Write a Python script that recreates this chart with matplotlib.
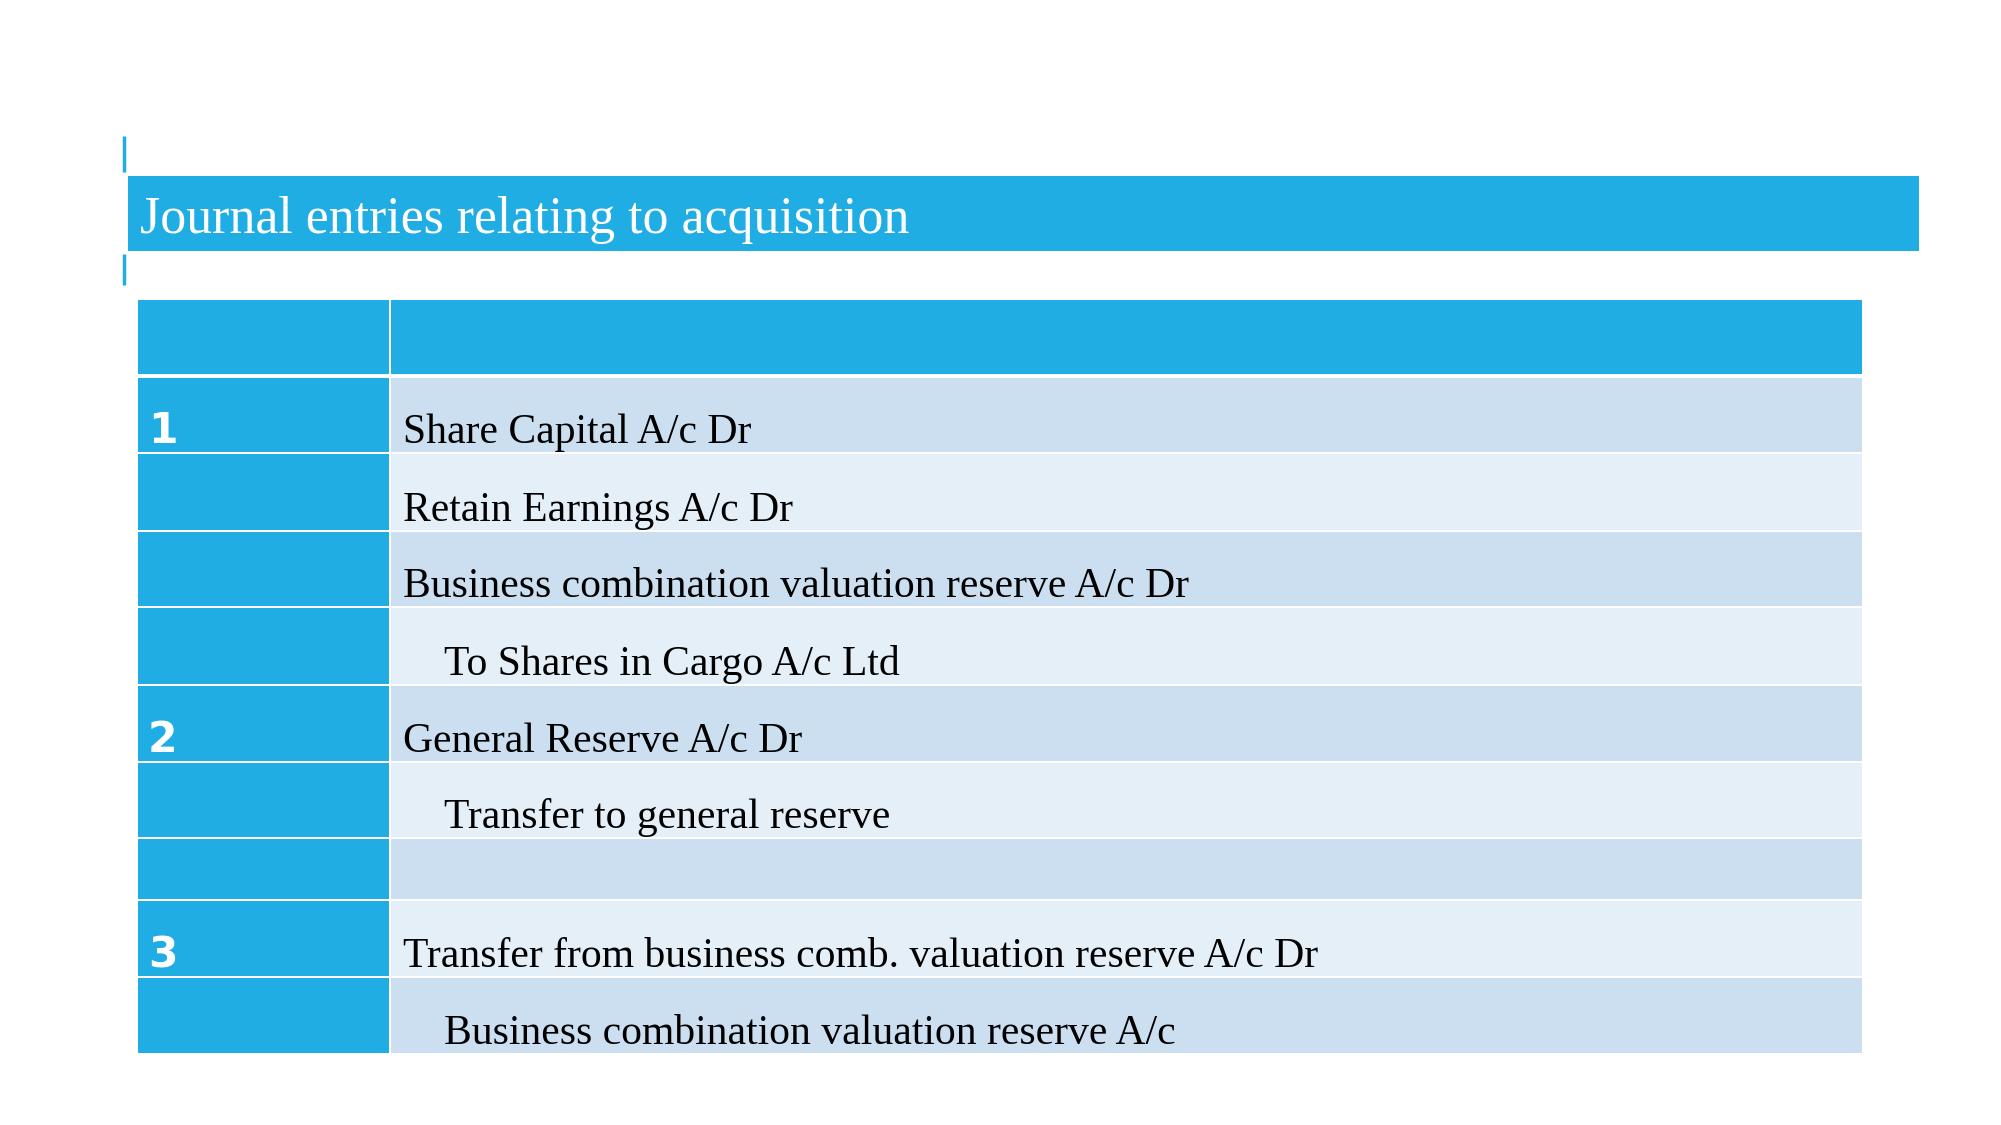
'''
Slide: journal entries relating to acquisition, drawn as a table.
'''

import matplotlib.pyplot as plt

title = 'Journal entries relating to acquisition'

entry_no = ['1', '', '', '', '2', '', '', '3', '']
entries = [
    'Share Capital A/c Dr',
    'Retain Earnings A/c Dr',
    'Business combination valuation reserve A/c Dr',
    'To Shares in Cargo A/c Ltd',
    'General Reserve A/c Dr',
    'Transfer to general reserve',
    '',
    'Transfer from business comb. valuation reserve A/c Dr',
    'Business combination valuation reserve A/c',
]
indented = [False, False, False, True, False, True, False, False, True]

# layout (pixels on a 2001 x 1125 canvas)
W, H = 2001, 1125
BLUE = '#1fade4'
ROW_DARK = '#cbdff0'
ROW_LIGHT = '#e5eff8'
table_left, col_split, table_right = 138, 389, 1862
header_top, header_h = 300, 74
row_h = [74, 76, 74, 76, 75, 74, 60, 75, 75]
gap = 2

fig = plt.figure(figsize=(W / 100, H / 100), dpi=100)
ax = fig.add_axes([0, 0, 1, 1])
ax.set_xlim(0, W)
ax.set_ylim(H, 0)
ax.axis('off')

# title bar and accent ticks
ax.barh(176, 1919 - 128, height=75, left=128, align='edge', color=BLUE)
ax.plot([124, 124], [136, 172], color=BLUE, lw=2.5, solid_capstyle='butt')
ax.plot([124, 124], [254, 285], color=BLUE, lw=2.5, solid_capstyle='butt')
ax.text(140, 233, title, color='white', fontsize=37.4,
        family='Liberation Serif', va='baseline')

# header row
ax.barh(header_top, col_split - table_left, height=header_h, left=table_left,
        align='edge', color=BLUE)
ax.barh(header_top, table_right - col_split - gap, height=header_h,
        left=col_split + gap, align='edge', color=BLUE)

# body rows
y = header_top + header_h + 4
for i, (num, txt, ind) in enumerate(zip(entry_no, entries, indented)):
    h = row_h[i]
    ax.barh(y, col_split - table_left, height=h, left=table_left,
            align='edge', color=BLUE)
    ax.barh(y, table_right - col_split - gap, height=h, left=col_split + gap,
            align='edge', color=ROW_DARK if i % 2 == 0 else ROW_LIGHT)
    base = y + h - 9
    if num:
        ax.text(148, base, num, color='white', fontsize=30.5,
                family='DejaVu Sans', weight='bold', va='baseline')
    if txt:
        ax.text(444 if ind else 403, base, txt, color='black', fontsize=30,
                family='Liberation Serif', va='baseline')
    y += h + gap

fig.savefig('out.png', dpi=100)
